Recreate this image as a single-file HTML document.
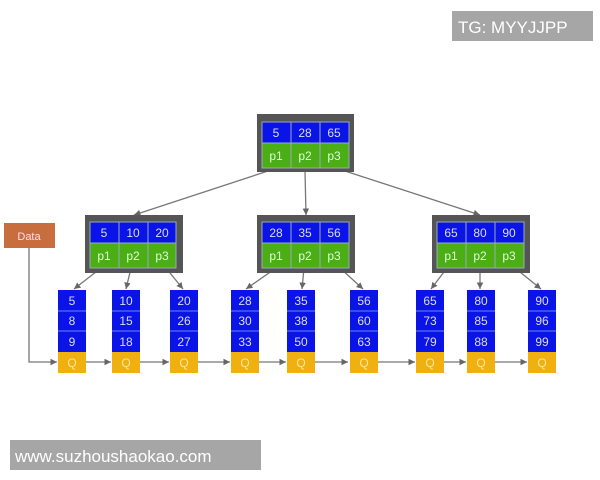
<!DOCTYPE html>
<html><head><meta charset="utf-8"><style>
html,body{margin:0;padding:0;background:#fff;width:600px;height:480px;overflow:hidden}
svg{display:block}
text{font-family:"Liberation Sans",sans-serif}
</style></head><body>
<svg width="600" height="480" viewBox="0 0 600 480" xmlns="http://www.w3.org/2000/svg">
<defs><marker id="a" markerWidth="6" markerHeight="6" refX="5" refY="3" orient="auto"><path d="M0,0.5 L5,3 L0,5.5z" fill="#666"/></marker></defs>
<g stroke="#777" stroke-width="1.3" fill="none" marker-end="url(#a)">
<line x1="268" y1="171" x2="134" y2="215"/>
<line x1="305" y1="171" x2="306" y2="215"/>
<line x1="345" y1="171" x2="480" y2="215"/>
<line x1="101" y1="268" x2="74" y2="289"/>
<line x1="131" y1="268" x2="126" y2="289"/>
<line x1="166" y1="268" x2="183" y2="289"/>
<line x1="276" y1="268" x2="246" y2="289"/>
<line x1="304" y1="268" x2="302" y2="289"/>
<line x1="340" y1="268" x2="363" y2="289"/>
<line x1="447" y1="268" x2="431" y2="289"/>
<line x1="480" y1="268" x2="480" y2="289"/>
<line x1="515" y1="268" x2="541" y2="289"/>
<polyline points="29,248 29,362 57,362"/>
<line x1="86" y1="362" x2="111" y2="362"/>
<line x1="140" y1="362" x2="169" y2="362"/>
<line x1="198" y1="362" x2="230" y2="362"/>
<line x1="259" y1="362" x2="286" y2="362"/>
<line x1="315" y1="362" x2="348" y2="362"/>
<line x1="378" y1="362" x2="415" y2="362"/>
<line x1="444" y1="362" x2="466" y2="362"/>
<line x1="495" y1="362" x2="527" y2="362"/>
</g>
<g font-size="12" text-anchor="middle">
<rect x="257" y="114" width="97" height="58" fill="#555"/>
<g stroke="#9ab" stroke-width="1">
<rect x="262" y="122" width="29" height="21" fill="#0a14e6"/><rect x="291" y="122" width="29" height="21" fill="#0a14e6"/><rect x="320" y="122" width="29" height="21" fill="#0a14e6"/>
<rect x="262" y="143" width="29" height="25" fill="#4aae14"/><rect x="291" y="143" width="29" height="25" fill="#4aae14"/><rect x="320" y="143" width="29" height="25" fill="#4aae14"/>
</g>
<g fill="#dde"><text x="276" y="137">5</text><text x="305" y="137">28</text><text x="334" y="137">65</text></g>
<g fill="#dfd"><text x="276" y="160">p1</text><text x="305" y="160">p2</text><text x="334" y="160">p3</text></g>
</g>
<g font-size="12" text-anchor="middle">
<rect x="85" y="215" width="98" height="58" fill="#555"/>
<rect x="257" y="215" width="98" height="58" fill="#555"/>
<rect x="432" y="215" width="98" height="58" fill="#555"/>
<g stroke="#9ab" stroke-width="1">
<rect x="90" y="222" width="29" height="21" fill="#0a14e6"/><rect x="119" y="222" width="29" height="21" fill="#0a14e6"/><rect x="148" y="222" width="28" height="21" fill="#0a14e6"/>
<rect x="90" y="243" width="29" height="25" fill="#4aae14"/><rect x="119" y="243" width="29" height="25" fill="#4aae14"/><rect x="148" y="243" width="28" height="25" fill="#4aae14"/>
<rect x="262" y="222" width="29" height="21" fill="#0a14e6"/><rect x="291" y="222" width="29" height="21" fill="#0a14e6"/><rect x="320" y="222" width="29" height="21" fill="#0a14e6"/>
<rect x="262" y="243" width="29" height="25" fill="#4aae14"/><rect x="291" y="243" width="29" height="25" fill="#4aae14"/><rect x="320" y="243" width="29" height="25" fill="#4aae14"/>
<rect x="437" y="222" width="29" height="21" fill="#0a14e6"/><rect x="466" y="222" width="29" height="21" fill="#0a14e6"/><rect x="495" y="222" width="29" height="21" fill="#0a14e6"/>
<rect x="437" y="243" width="29" height="25" fill="#4aae14"/><rect x="466" y="243" width="29" height="25" fill="#4aae14"/><rect x="495" y="243" width="29" height="25" fill="#4aae14"/>
</g>
<g fill="#dde">
<text x="104" y="237">5</text><text x="133" y="237">10</text><text x="162" y="237">20</text>
<text x="276" y="237">28</text><text x="305" y="237">35</text><text x="334" y="237">56</text>
<text x="451" y="237">65</text><text x="480" y="237">80</text><text x="509" y="237">90</text>
</g>
<g fill="#dfd">
<text x="104" y="260">p1</text><text x="133" y="260">p2</text><text x="162" y="260">p3</text>
<text x="276" y="260">p1</text><text x="305" y="260">p2</text><text x="334" y="260">p3</text>
<text x="451" y="260">p1</text><text x="480" y="260">p2</text><text x="509" y="260">p3</text>
</g>
</g>
<g font-size="12" text-anchor="middle">
<g>
<rect x="58" y="290" width="28" height="62" fill="#0a14e6"/><rect x="58" y="352" width="28" height="21" fill="#f0b010"/>
<rect x="112" y="290" width="28" height="62" fill="#0a14e6"/><rect x="112" y="352" width="28" height="21" fill="#f0b010"/>
<rect x="170" y="290" width="28" height="62" fill="#0a14e6"/><rect x="170" y="352" width="28" height="21" fill="#f0b010"/>
<rect x="231" y="290" width="28" height="62" fill="#0a14e6"/><rect x="231" y="352" width="28" height="21" fill="#f0b010"/>
<rect x="287" y="290" width="28" height="62" fill="#0a14e6"/><rect x="287" y="352" width="28" height="21" fill="#f0b010"/>
<rect x="350" y="290" width="28" height="62" fill="#0a14e6"/><rect x="350" y="352" width="28" height="21" fill="#f0b010"/>
<rect x="416" y="290" width="28" height="62" fill="#0a14e6"/><rect x="416" y="352" width="28" height="21" fill="#f0b010"/>
<rect x="467" y="290" width="28" height="62" fill="#0a14e6"/><rect x="467" y="352" width="28" height="21" fill="#f0b010"/>
<rect x="528" y="290" width="28" height="62" fill="#0a14e6"/><rect x="528" y="352" width="28" height="21" fill="#f0b010"/>
</g>
<g stroke="#8af" stroke-width="0.8">
<path d="M58 311h28M58 331h28M112 311h28M112 331h28M170 311h28M170 331h28M231 311h28M231 331h28M287 311h28M287 331h28M350 311h28M350 331h28M416 311h28M416 331h28M467 311h28M467 331h28M528 311h28M528 331h28"/>
</g>
<g fill="#dde">
<text x="72" y="305">5</text><text x="72" y="325">8</text><text x="72" y="346">9</text>
<text x="126" y="305">10</text><text x="126" y="325">15</text><text x="126" y="346">18</text>
<text x="184" y="305">20</text><text x="184" y="325">26</text><text x="184" y="346">27</text>
<text x="245" y="305">28</text><text x="245" y="325">30</text><text x="245" y="346">33</text>
<text x="301" y="305">35</text><text x="301" y="325">38</text><text x="301" y="346">50</text>
<text x="364" y="305">56</text><text x="364" y="325">60</text><text x="364" y="346">63</text>
<text x="430" y="305">65</text><text x="430" y="325">73</text><text x="430" y="346">79</text>
<text x="481" y="305">80</text><text x="481" y="325">85</text><text x="481" y="346">88</text>
<text x="542" y="305">90</text><text x="542" y="325">96</text><text x="542" y="346">99</text>
</g>
<g fill="#fbe6a0">
<text x="72" y="367">Q</text><text x="126" y="367">Q</text><text x="184" y="367">Q</text><text x="245" y="367">Q</text><text x="301" y="367">Q</text><text x="364" y="367">Q</text><text x="430" y="367">Q</text><text x="481" y="367">Q</text><text x="542" y="367">Q</text>
</g>
</g>
<rect x="4" y="223" width="51" height="25" fill="#c76d3e"/>
<text x="29" y="240" font-size="11" fill="#fde" text-anchor="middle">Data</text>
<rect x="452" y="11" width="141" height="30" fill="#a6a6a6"/>
<text x="458" y="33" font-size="17" fill="#fff">TG: MYYJJPP</text>
<rect x="10" y="440" width="251" height="30" fill="#a6a6a6"/>
<text x="15" y="462" font-size="17" fill="#fff">www.suzhoushaokao.com</text>
</svg>
</body></html>
